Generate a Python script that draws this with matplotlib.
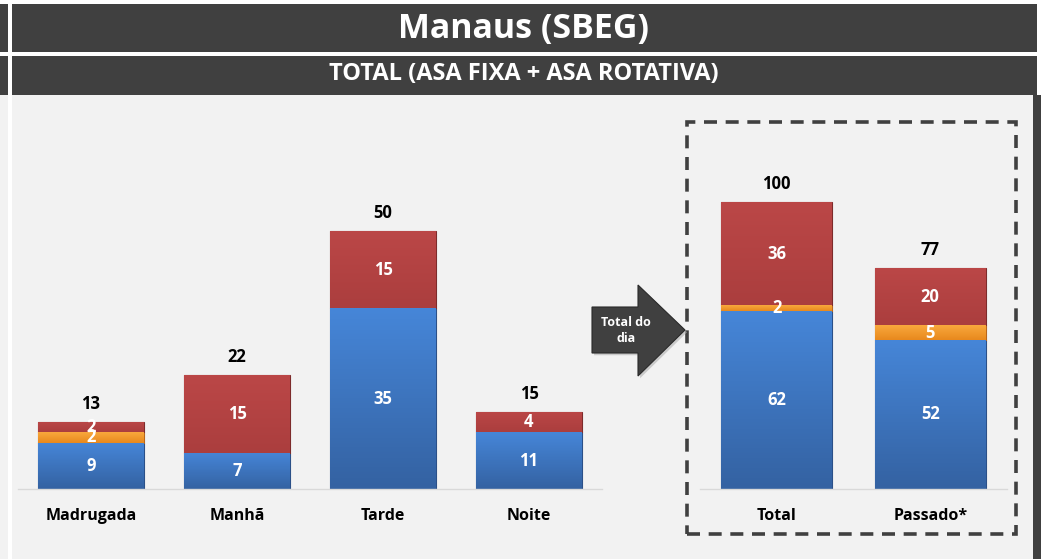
import matplotlib
matplotlib.use("Agg")
import matplotlib.pyplot as plt
import numpy as np
from matplotlib.patches import Rectangle, Polygon
from matplotlib.colors import LinearSegmentedColormap

plt.rcParams['font.family'] = ['Open Sans', 'DejaVu Sans']
plt.rcParams['font.weight'] = 'bold'

# dados
periodos = ['Madrugada', 'Manhã', 'Tarde', 'Noite']
asa_fixa_p = [9, 7, 35, 11]
outros_p = [2, 0, 0, 0]
asa_rot_p = [2, 15, 15, 4]

resumo = ['Total', 'Passado*']
asa_fixa_r = [62, 52]
outros_r = [2, 5]
asa_rot_r = [36, 20]

titulo = 'Manaus (SBEG)'
subtitulo = 'TOTAL (ASA FIXA + ASA ROTATIVA)'

# cores (topo, base) de cada serie
AZUL = ('#4686d8', '#3462a2')
VERMELHO = ('#bb4747', '#ab3e3e')
LARANJA = ('#f9a83c', '#e8891e')
ESCURO = '#404040'
FUNDO = '#f2f2f2'

W, H = 1041, 559
fig = plt.figure(figsize=(W / 100, H / 100), dpi=100)
fig.patch.set_facecolor('white')

def fx(x):
    return x / W

def fy(y):
    return 1 - y / H

def caixa(x0, y0, x1, y1, **kw):
    fig.patches.append(Rectangle((fx(x0), fy(y1)), fx(x1) - fx(x0), fy(y0) - fy(y1),
                                 transform=fig.transFigure, zorder=-5, **kw))

# fundos e faixas de titulo
caixa(0, 95, 8, H, facecolor=FUNDO, edgecolor='none')
caixa(12, 95, 1033, H, facecolor=FUNDO, edgecolor='none')
caixa(1033, 95, W, H, facecolor=ESCURO, edgecolor='none')
caixa(0, 4, 8, 52, facecolor=ESCURO, edgecolor='none')
caixa(12, 4, 1037, 52, facecolor=ESCURO, edgecolor='none')
caixa(0, 56, 8, 95, facecolor=ESCURO, edgecolor='none')
caixa(12, 56, 1037, 95, facecolor=ESCURO, edgecolor='none')
fig.text(fx(524), fy(29), titulo, color='white', fontsize=24.5, fontweight='bold',
         ha='center', va='center')
fig.text(fx(524), fy(74), subtitulo, color='white', fontsize=17, fontweight='bold',
         ha='center', va='center')

grad = np.linspace(1, 0, 64).reshape(-1, 1)


def pinta(ax, barras, cores):
    # gradiente vertical dentro de cada barra
    cmap = LinearSegmentedColormap.from_list('c', [cores[1], cores[0]])
    for r in barras:
        if r.get_height() <= 0:
            continue
        x0, y0, w, h = r.get_x(), r.get_y(), r.get_width(), r.get_height()
        im = ax.imshow(grad, cmap=cmap, vmin=0, vmax=1, aspect='auto',
                       extent=(x0, x0 + w, y0, y0 + h), zorder=1.5)
        im.set_clip_path(r)


def empilhado(ax, nomes, base, meio, topo, ymax):
    x = range(len(nomes))
    soma = [a + b for a, b in zip(base, meio)]
    b1 = ax.bar(x, base, 0.72, color=AZUL[0], edgecolor='#2b5088', linewidth=0.8)
    b2 = ax.bar(x, meio, 0.72, bottom=base, color=LARANJA[0], edgecolor='#b8661a', linewidth=0.8)
    b3 = ax.bar(x, topo, 0.72, bottom=soma, color=VERMELHO[0], edgecolor='#7d2b2b', linewidth=0.8)
    pinta(ax, b1, AZUL)
    pinta(ax, b2, LARANJA)
    pinta(ax, b3, VERMELHO)
    for barras, vals in ((b1, base), (b2, meio), (b3, topo)):
        for r, v in zip(barras, vals):
            if v:
                ax.text(r.get_x() + r.get_width() / 2, r.get_y() + r.get_height() / 2, str(v),
                        color='white', fontsize=12, fontweight='bold', ha='center', va='center',
                        zorder=3)
    for i, (s, t) in enumerate(zip(soma, topo)):
        ax.annotate(str(s + t), (i, s + t), xytext=(0, 13), textcoords='offset points',
                    ha='center', va='center', fontsize=12, fontweight='bold', color='black')
    ax.set_xlim(-0.5, len(nomes) - 0.5)
    ax.set_ylim(0, ymax)
    ax.set_xticks(list(x))
    ax.set_xticklabels(nomes, fontsize=11.5, fontweight='bold')
    ax.tick_params(axis='x', length=0, pad=14)
    ax.set_yticks([])
    for lado in ('top', 'right', 'left'):
        ax.spines[lado].set_visible(False)
    ax.spines['bottom'].set_color('#d9d9d9')
    ax.spines['bottom'].set_linewidth(1)
    ax.set_facecolor('none')


# eixo da esquerda: 5.16 px por unidade
ax1 = fig.add_axes([fx(18), fy(489), fx(602) - fx(18), fy(180) - fy(489)])
empilhado(ax1, periodos, asa_fixa_p, outros_p, asa_rot_p, 309 / 5.16)

# eixo da direita: 2.87 px por unidade
ax2 = fig.add_axes([fx(700), fy(489), fx(1007) - fx(700), fy(180) - fy(489)])
empilhado(ax2, resumo, asa_fixa_r, outros_r, asa_rot_r, 309 / 2.87)

# caixa tracejada
fig.patches.append(Rectangle((fx(687), fy(534)), fx(1016) - fx(687), fy(122) - fy(534),
                             transform=fig.transFigure, fill=False, edgecolor=ESCURO,
                             linewidth=2.6, linestyle=(0, (3.6, 2.4)), joinstyle='miter'))

# seta "Total do dia"
pts = [(592, 307), (638, 307), (638, 285), (685, 330), (638, 376), (638, 353), (592, 353)]
fig.patches.append(Polygon([(fx(a) + 0.002, fy(b) - 0.004) for a, b in pts], closed=True,
                           transform=fig.transFigure, facecolor='#b0b0b0', edgecolor='none',
                           alpha=0.6))
fig.patches.append(Polygon([(fx(a), fy(b)) for a, b in pts], closed=True,
                           transform=fig.transFigure, facecolor=ESCURO, edgecolor='#2a2a2a',
                           linewidth=0.8))
fig.text(fx(626), fy(330), 'Total do\ndia', color='white', fontsize=9, fontweight='bold',
         ha='center', va='center', linespacing=1.3)

fig.savefig('out.png', dpi=100)
